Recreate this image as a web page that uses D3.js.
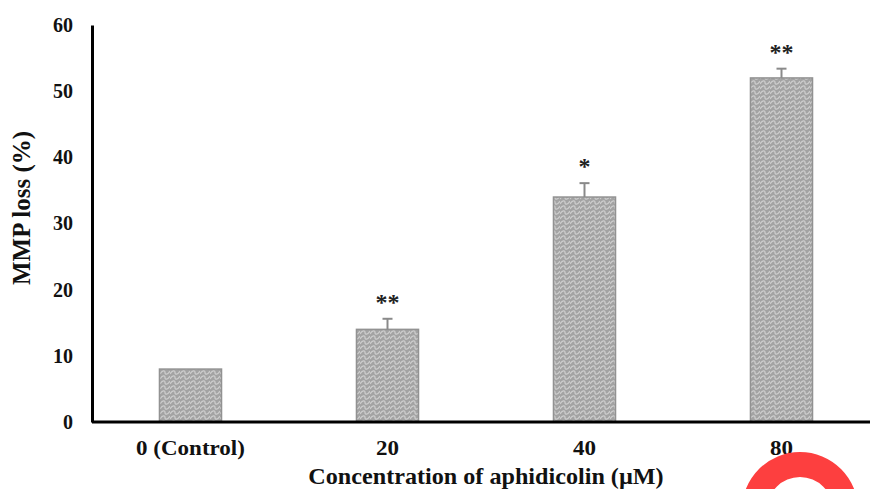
<!DOCTYPE html>
<html>
<head>
<meta charset="utf-8">
<script src="https://cdn.jsdelivr.net/npm/d3@7"></script>
<style>
  body { margin: 0; background: #fff; }
  svg { display: block; font-family: "Liberation Serif", "Times New Roman", serif; }
</style>
</head>
<body>
<div id="chart"></div>
<script>
// data
var categories = ["0 (Control)", "20", "40", "80"];
var values = [8, 14, 34, 52];
var errors = [0, 1.6, 2.1, 1.4];
var stars = ["", "**", "*", "**"];
var yTicks = [0, 10, 20, 30, 40, 50, 60];

var width = 870, height = 489;
var plotLeft = 92, plotTop = 25, plotBottom = 422;

var svg = d3.select("#chart").append("svg")
  .attr("width", width)
  .attr("height", height);

// wavy grey fill like the original bars
var defs = svg.append("defs");
var pat = defs.append("pattern")
  .attr("id", "wave")
  .attr("patternUnits", "userSpaceOnUse")
  .attr("width", 10)
  .attr("height", 10);
pat.append("rect").attr("width", 10).attr("height", 10).attr("fill", "#a3a3a3");
pat.append("path")
  .attr("d", "M0,4 C2.5,0 5,0 5,2.5 C5,5 7.5,5 10,1 M0,9 C2.5,5 5,5 5,7.5 C5,10 7.5,10 10,6")
  .attr("fill", "none")
  .attr("stroke", "#cdcdcd")
  .attr("stroke-width", 1.3);

var x = d3.scaleBand()
  .domain(categories)
  .range([plotLeft, 880])
  .paddingInner(0.685)
  .paddingOuter(0.3425);

var y = d3.scaleLinear()
  .domain([0, 60])
  .range([plotBottom, plotTop]);

var data = categories.map(function(c, i) {
  return { cat: c, value: values[i], err: errors[i], star: stars[i] };
});

// bars
svg.selectAll("rect.bar")
  .data(data)
  .enter().append("rect")
  .attr("class", "bar")
  .attr("x", function(d) { return x(d.cat); })
  .attr("y", function(d) { return y(d.value); })
  .attr("width", x.bandwidth())
  .attr("height", function(d) { return y(0) - y(d.value); })
  .attr("fill", "url(#wave)")
  .attr("stroke", "#929292")
  .attr("stroke-width", 1.5);

// error bars
var eb = svg.selectAll("g.err")
  .data(data.filter(function(d) { return d.err > 0; }))
  .enter().append("g")
  .attr("class", "err")
  .attr("stroke", "#8a8a8a")
  .attr("stroke-width", 2);
eb.append("line")
  .attr("x1", function(d) { return x(d.cat) + x.bandwidth() / 2; })
  .attr("x2", function(d) { return x(d.cat) + x.bandwidth() / 2; })
  .attr("y1", function(d) { return y(d.value); })
  .attr("y2", function(d) { return y(d.value + d.err); });
eb.append("line")
  .attr("x1", function(d) { return x(d.cat) + x.bandwidth() / 2 - 5; })
  .attr("x2", function(d) { return x(d.cat) + x.bandwidth() / 2 + 5; })
  .attr("y1", function(d) { return y(d.value + d.err); })
  .attr("y2", function(d) { return y(d.value + d.err); });

// significance stars
svg.selectAll("text.star")
  .data(data)
  .enter().append("text")
  .attr("class", "star")
  .attr("x", function(d) { return x(d.cat) + x.bandwidth() / 2; })
  .attr("y", function(d) { return y(d.value + d.err) - 9; })
  .attr("text-anchor", "middle")
  .attr("font-size", 24)
  .attr("font-weight", "bold")
  .attr("fill", "#222")
  .text(function(d) { return d.star; });

// axes
var yAxis = svg.append("g")
  .attr("transform", "translate(" + plotLeft + ",0)")
  .call(d3.axisLeft(y).tickValues(yTicks).tickSize(0).tickPadding(19));
var xAxis = svg.append("g")
  .attr("transform", "translate(0," + plotBottom + ")")
  .call(d3.axisBottom(x).tickSize(0).tickPadding(19));

[yAxis, xAxis].forEach(function(g) {
  g.select(".domain").attr("stroke", "#000").attr("stroke-width", 3);
  g.selectAll("text")
    .attr("font-family", "Liberation Serif, Times New Roman, serif")
    .attr("font-size", 20)
    .attr("font-weight", "bold")
    .attr("fill", "#111");
});
xAxis.select(".domain").attr("d", "M" + plotLeft + ",0H" + width);
// labels a little wider, as in the original
xAxis.selectAll(".tick text").attr("transform", "scale(1.15,1)");

// axis titles
svg.append("text")
  .attr("transform", "translate(30,208) rotate(-90)")
  .attr("text-anchor", "middle")
  .attr("font-size", 25)
  .attr("font-weight", "bold")
  .attr("fill", "#111")
  .text("MMP loss (%)");

svg.append("text")
  .attr("transform", "translate(486,484) scale(1.05,1)")
  .attr("text-anchor", "middle")
  .attr("font-size", 23)
  .attr("font-weight", "bold")
  .attr("fill", "#111")
  .text("Concentration of aphidicolin (\u00b5M)");

// red arch in the lower right corner
svg.append("path")
  .attr("transform", "translate(800,510)")
  .attr("d", d3.arc()({ innerRadius: 33, outerRadius: 58, startAngle: -Math.PI / 2, endAngle: Math.PI / 2 }))
  .attr("fill", "#fd3f3f");
</script>
</body>
</html>
